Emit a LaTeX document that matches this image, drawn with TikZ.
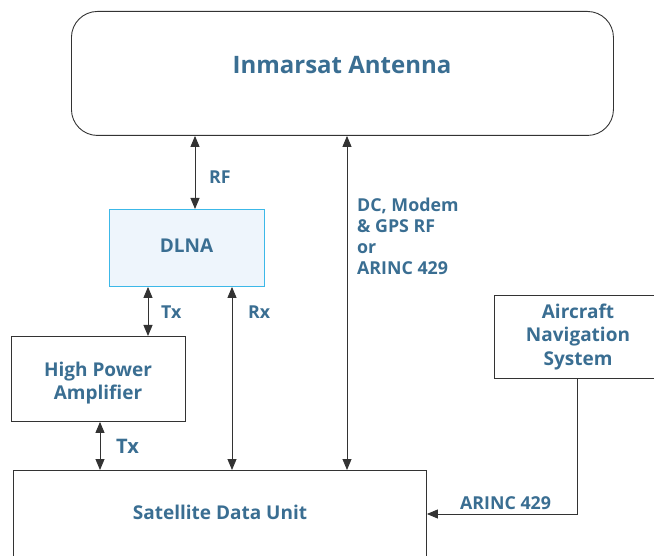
\documentclass[tikz,border=0pt]{standalone}
\usepackage{fontspec}
\setmainfont{Open Sans}
\usetikzlibrary{arrows.meta}
\definecolor{txt}{HTML}{3A6E92}
\definecolor{ln}{HTML}{333333}
\definecolor{dfill}{HTML}{EEF5FC}
\definecolor{dborder}{HTML}{3CB8E8}
\begin{document}
\begin{tikzpicture}[x=1pt,y=-1pt,
  box/.style={draw=ln,line width=0.9pt,inner sep=0pt,anchor=north west},
  lbl/.style={text=txt,font=\bfseries\fontsize{19}{23.5}\selectfont,align=center,inner sep=0pt},
  slbl/.style={text=txt,font=\bfseries\fontsize{17.8}{21}\selectfont,align=left,inner sep=0pt,anchor=west},
  conn/.style={draw=ln,line width=0.9pt},
  dbl/.style={conn,{Triangle[length=11pt,width=9pt]}-{Triangle[length=11pt,width=9pt]}},
  sgl/.style={conn,-{Triangle[length=11pt,width=9pt]}}]
\useasboundingbox (0,0) rectangle (654,556);
\clip (0,0) rectangle (654,556);
% boxes
\node[box,rounded corners=26pt,minimum width=542pt,minimum height=124pt] (ant) at (71,11) {};
\node[lbl,font=\bfseries\fontsize{24}{28}\selectfont] (antlbl) at (342,65) {Inmarsat Antenna};
\node[box,draw=dborder,fill=dfill,minimum width=155pt,minimum height=77pt] (dlna) at (109,209) {};
\node[lbl] (dlnalbl) at (186.5,246) {DLNA};
\node[box,minimum width=174pt,minimum height=85pt] (hpa) at (11,336) {};
\node[lbl] (hpalbl) at (98,383) {High Power\\Amplifier};
\node[box,minimum width=413pt,minimum height=100pt] (sdu) at (13,470) {};
\node[lbl] (sdulbl) at (220,512) {Satellite Data Unit};
\node[box,minimum width=170pt,minimum height=83pt] (ans) at (494,295) {};
\node[lbl] (anslbl) at (578,337) {Aircraft\\Navigation\\System};
% x positions of connectors
\coordinate (xrf) at (195,0);
\coordinate (xbig) at (347,0);
\coordinate (xtx) at (148,0);
\coordinate (xrx) at (232,0);
\coordinate (xtx2) at (100,0);
\coordinate (xans) at (577,0);
\coordinate (bend) at (577,514);
% connectors
\draw[dbl] (ant.south -| xrf) -- (dlna.north -| xrf);
\draw[dbl] (ant.south -| xbig) -- (sdu.north -| xbig);
\draw[dbl] (dlna.south -| xtx) -- (hpa.north -| xtx);
\draw[dbl] (dlna.south -| xrx) -- (sdu.north -| xrx);
\draw[dbl] (hpa.south -| xtx2) -- (sdu.north -| xtx2);
\draw[sgl] (ans.south -| xans) -- (bend) -- (sdu.east |- bend);
% connector labels
\node[slbl] (rf) at (209,177.5) {RF};
\node[slbl,anchor=north west] (dc) at (357,197.5) {DC, Modem\\\& GPS RF\\or\\ARINC 429};
\node[slbl] (tx) at (161,312.5) {Tx};
\node[slbl] (rx) at (248,312.5) {Rx};
\node[slbl,font=\bfseries\fontsize{20}{24}\selectfont] (tx2) at (116,446) {Tx};
\node[slbl] (arinc) at (460,503) {ARINC 429};
\end{tikzpicture}
\end{document}
